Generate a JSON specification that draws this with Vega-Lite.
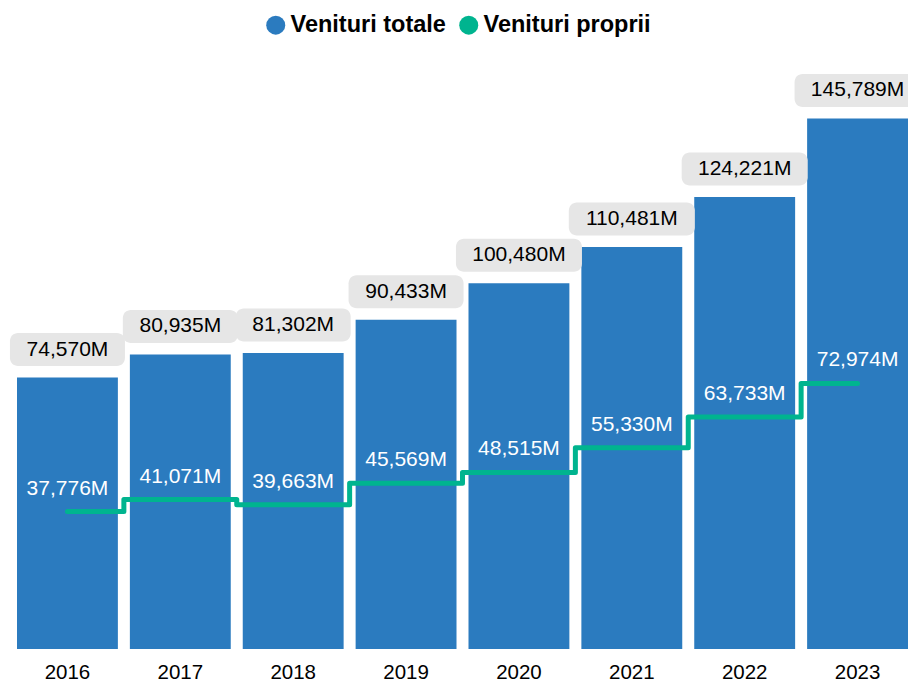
{
  "$schema": "https://vega.github.io/schema/vega-lite/v6.json",
  "width": 891,
  "height": 600,
  "autosize": {"type": "none"},
  "padding": {"left": 17, "right": 0, "top": 49, "bottom": 36},
  "background": "white",
  "config": {
    "font": "Liberation Sans",
    "view": {"stroke": null},
    "locale": {"number": {"decimal": ".", "thousands": ",", "grouping": [3], "currency": ["", "M"]}}
  },
  "data": {
    "values": [
      {"year": "2016", "total": 74570, "proprii": 37776},
      {"year": "2017", "total": 80935, "proprii": 41071},
      {"year": "2018", "total": 81302, "proprii": 39663},
      {"year": "2019", "total": 90433, "proprii": 45569},
      {"year": "2020", "total": 100480, "proprii": 48515},
      {"year": "2021", "total": 110481, "proprii": 55330},
      {"year": "2022", "total": 124221, "proprii": 63733},
      {"year": "2023", "total": 145789, "proprii": 72974}
    ]
  },
  "encoding": {
    "x": {
      "field": "year",
      "type": "ordinal",
      "scale": {"paddingInner": 0.1063, "paddingOuter": 0},
      "axis": {
        "title": null,
        "labelAngle": 0,
        "labelFontSize": 20.5,
        "labelColor": "#000000",
        "domain": false,
        "ticks": false,
        "labelPadding": 13
      }
    }
  },
  "layer": [
    {
      "mark": {"type": "bar", "color": "#2B7BBF"},
      "encoding": {
        "y": {"field": "total", "type": "quantitative", "scale": {"domain": [0, 164860], "nice": false}, "axis": null},
        "color": {
          "datum": "Venituri totale",
          "type": "nominal",
          "scale": {"domain": ["Venituri totale", "Venituri proprii"], "range": ["#2B7BBF", "#00B48F"]},
          "legend": {
            "orient": "none",
            "legendX": 247,
            "legendY": -36,
            "direction": "horizontal",
            "title": null,
            "symbolType": "circle",
            "symbolSize": 361,
            "symbolStrokeWidth": 0,
            "symbolOpacity": 1,
            "labelFontSize": 23.5,
            "labelFontWeight": "bold",
            "labelColor": "#000000",
            "labelLimit": 400,
            "labelOffset": 3,
            "columnPadding": 11,
            "encode": {"symbols": {"update": {"fill": {"scale": "color", "field": "value"}, "strokeWidth": {"value": 0}, "opacity": {"value": 1}}}}
          }
        }
      }
    },
    {
      "mark": {"type": "tick", "thickness": 33, "cornerRadius": 8, "yOffset": -28, "color": "#E6E6E6", "opacity": 1},
      "encoding": {
        "y": {"field": "total", "type": "quantitative"},
        "size": {"condition": {"test": "datum.total >= 100000", "value": 126}, "value": 115}
      }
    },
    {
      "mark": {"type": "text", "baseline": "alphabetic", "dy": -22, "fontSize": 21, "color": "#000000"},
      "encoding": {
        "y": {"field": "total", "type": "quantitative"},
        "text": {"field": "total", "type": "quantitative", "format": "$,.0f"}
      }
    },
    {
      "mark": {"type": "line", "interpolate": "step", "strokeWidth": 5, "strokeCap": "round", "strokeJoin": "round"},
      "encoding": {
        "y": {"field": "proprii", "type": "quantitative"},
        "color": {"datum": "Venituri proprii", "type": "nominal"}
      }
    },
    {
      "mark": {"type": "text", "baseline": "alphabetic", "dy": -17, "fontSize": 21, "color": "#FFFFFF"},
      "encoding": {
        "y": {"field": "proprii", "type": "quantitative"},
        "text": {"field": "proprii", "type": "quantitative", "format": "$,.0f"}
      }
    }
  ]
}
